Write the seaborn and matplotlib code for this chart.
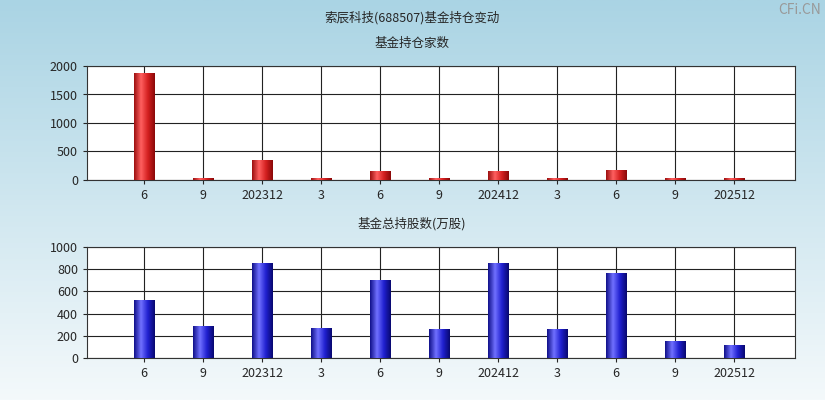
import numpy as np
import pandas as pd
import matplotlib
matplotlib.use('Agg')
import matplotlib.pyplot as plt
import seaborn as sns
from matplotlib.colors import LinearSegmentedColormap

periods = ['6', '9', '202312', '3', '6', '9', '202412', '3', '6', '9', '202512']
fund_count = [1860, 25, 350, 25, 150, 25, 150, 25, 170, 25, 25]
fund_shares = [515, 280, 850, 270, 695, 255, 855, 255, 765, 145, 110]

sns.set_style('white')
plt.rcParams['font.family'] = ['Noto Sans CJK SC', 'DejaVu Sans']

fig = plt.figure(figsize=(8.25, 4.0), dpi=100)

# background gradient
bg = fig.add_axes([0, 0, 1, 1], zorder=-10)
grad = np.linspace(0, 1, 256).reshape(-1, 1)
bg_cmap = LinearSegmentedColormap.from_list('bg', ['#aad4e4', '#f4f9fb'])
bg.imshow(grad, aspect='auto', cmap=bg_cmap, extent=[0, 1, 0, 1], origin='upper')
bg.axis('off')

red_cmap = LinearSegmentedColormap.from_list('r', ['#9c1010', '#ff6060', '#d42020', '#8a0808'])
blue_cmap = LinearSegmentedColormap.from_list('b', ['#10108a', '#7070ff', '#2020d0', '#080870'])


def draw(ax, values, ymax, yticks, cmap):
    df = pd.DataFrame({'x': range(len(periods)), 'v': values})
    sns.barplot(data=df, x='x', y='v', ax=ax, width=0.34, color='red', native_scale=True)
    hgrad = np.linspace(0, 1, 64).reshape(1, -1)
    for p in ax.patches:
        x0, y0 = p.get_x(), p.get_y()
        w, h = p.get_width(), p.get_height()
        p.set_visible(False)
        ax.imshow(hgrad, cmap=cmap, aspect='auto', extent=[x0, x0 + w, y0, y0 + h], zorder=3)
    ax.set_xlim(-0.97, 11.03)
    ax.set_ylim(0, ymax)
    ax.set_xticks(range(len(periods)))
    ax.set_xticklabels(periods)
    ax.set_yticks(yticks)
    ax.grid(True, color='#222222', linewidth=0.8)
    ax.set_axisbelow(True)
    ax.set_xlabel('')
    ax.set_ylabel('')
    ax.set_facecolor('white')
    for s in ax.spines.values():
        s.set_color('#333333')
        s.set_linewidth(0.8)
    ax.tick_params(labelsize=9, length=3, direction='out', left=True, bottom=True)


ax1 = fig.add_axes([87 / 825, 1 - 180 / 400, 708 / 825, 114 / 400])
draw(ax1, fund_count, 2000, [0, 500, 1000, 1500, 2000], red_cmap)
ax2 = fig.add_axes([87 / 825, 1 - 358 / 400, 708 / 825, 111 / 400])
draw(ax2, fund_shares, 1000, [0, 200, 400, 600, 800, 1000], blue_cmap)

fig.text(412 / 825, 1 - 18 / 400, '索辰科技(688507)基金持仓变动', ha='center', va='center', fontsize=9)
fig.text(412 / 825, 1 - 43 / 400, '基金持仓家数', ha='center', va='center', fontsize=9)
fig.text(412 / 825, 1 - 224 / 400, '基金总持股数(万股)', ha='center', va='center', fontsize=9)
fig.text(800 / 825, 1 - 10 / 400, 'CFi.CN', ha='center', va='center', fontsize=10, color='#999999')

fig.savefig('out.png', dpi=100)
